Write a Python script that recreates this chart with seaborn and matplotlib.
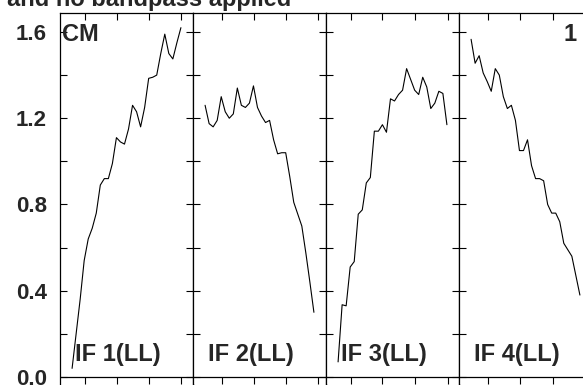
import numpy as np
import pandas as pd
import matplotlib
matplotlib.use('Agg')
import matplotlib.pyplot as plt
import seaborn as sb

# Channel numbers shared by every IF
channels = list(range(1, 29))

# Amplitude per channel
if1_ll = [0.04, 0.20, 0.36, 0.54, 0.64, 0.69, 0.76, 0.89, 0.92, 0.92,
          0.99, 1.11, 1.09, 1.08, 1.15, 1.26, 1.23, 1.16, 1.25, 1.385,
          1.39, 1.40, 1.50, 1.59, 1.50, 1.475, 1.55, 1.62]
if2_ll = [1.26, 1.175, 1.16, 1.19, 1.30, 1.23, 1.20, 1.22, 1.34, 1.26,
          1.25, 1.27, 1.35, 1.25, 1.21, 1.18, 1.19, 1.10, 1.035, 1.04,
          1.04, 0.93, 0.81, 0.755, 0.70, 0.575, 0.44, 0.30]
if3_ll = [0.07, 0.335, 0.33, 0.51, 0.535, 0.755, 0.775, 0.90, 0.925, 1.14,
          1.14, 1.17, 1.135, 1.29, 1.28, 1.31, 1.33, 1.43, 1.38, 1.33,
          1.31, 1.39, 1.345, 1.245, 1.27, 1.325, 1.315, 1.17]
if4_ll = [1.566, 1.455, 1.49, 1.41, 1.37, 1.325, 1.43, 1.40, 1.30, 1.245,
          1.26, 1.19, 1.05, 1.05, 1.10, 0.98, 0.92, 0.92, 0.91, 0.80,
          0.76, 0.76, 0.72, 0.62, 0.59, 0.56, 0.47, 0.38]

panel_labels = ['IF 1(LL)', 'IF 2(LL)', 'IF 3(LL)', 'IF 4(LL)']
ytick_major = [0.0, 0.4, 0.8, 1.2, 1.6]
ytick_minor = [0.2, 0.6, 1.0, 1.4]
# x tick positions (channel units) for each IF
xtick_sets = [[4.3, 12.2, 20.1, 28.0],
              [5.2, 13.1, 21.0, 29.0],
              [4.2, 12.0, 20.0, 28.2],
              [5.1, 13.1, 21.3, 29.2]]

# Long table for seaborn
df = pd.concat([
    pd.DataFrame({'channel': channels, 'amp': vals, 'IF': i + 1})
    for i, vals in enumerate([if1_ll, if2_ll, if3_ll, if4_ll])
], ignore_index=True)

sb.set_style('white')
plt.rcParams['font.family'] = ['Liberation Sans', 'DejaVu Sans']
plt.rcParams['font.weight'] = 'bold'

W, H = 583, 385
fig = plt.figure(figsize=(W / 100, H / 100), dpi=100)

left0, pw, top, bot = 60, 133, 13, 384

for i in range(4):
    ax = fig.add_axes([(left0 + i * pw) / W, (H - bot) / H, pw / W, (bot - top) / H])
    sb.lineplot(data=df[df['IF'] == i + 1], x='channel', y='amp',
                color='black', linewidth=0.8, estimator=None, ax=ax)
    ax.set_xlim(-2, 31)
    ax.set_ylim(-0.0325, 1.688)
    ax.axhline(0, color='black', linewidth=0.9)

    for side in ['left', 'right', 'top']:
        ax.spines[side].set_color('black')
        ax.spines[side].set_linewidth(0.9)
    ax.spines['bottom'].set_visible(False)

    ax.set_yticks(ytick_major)
    ax.set_yticks(ytick_minor, minor=True)
    ax.set_xticks(xtick_sets[i])
    ax.tick_params(axis='both', which='both', direction='in', length=5.2,
                   width=0.8, color='black', left=True, right=True,
                   top=True, bottom=True, labelbottom=False)
    if i == 0:
        ax.set_yticklabels([f'{v:.1f}' for v in ytick_major],
                           fontsize=16, fontweight='bold')
        ax.tick_params(axis='y', pad=9.6)
    else:
        ax.tick_params(axis='y', labelleft=False)
    ax.set_xlabel('')
    ax.set_ylabel('')

    ax.text(15 / pw, (bot - 352) / (bot - top), panel_labels[i],
            transform=ax.transAxes, fontsize=17, fontweight='bold',
            va='center_baseline', ha='left')
    if i == 0:
        ax.text(2 / pw, (bot - 32) / (bot - top), 'CM', transform=ax.transAxes,
                fontsize=17, fontweight='bold', va='center_baseline', ha='left')
    if i == 3:
        ax.text(118 / pw, (bot - 32) / (bot - top), '1', transform=ax.transAxes,
                fontsize=17, fontweight='bold', va='center_baseline', ha='right')

# Header line, mostly cut off at the top of the page
fig.text(7 / W, 1 - 6 / H, 'and no bandpass applied', fontsize=17,
         fontweight='bold', va='baseline', ha='left')

fig.savefig('out.png', dpi=100)
